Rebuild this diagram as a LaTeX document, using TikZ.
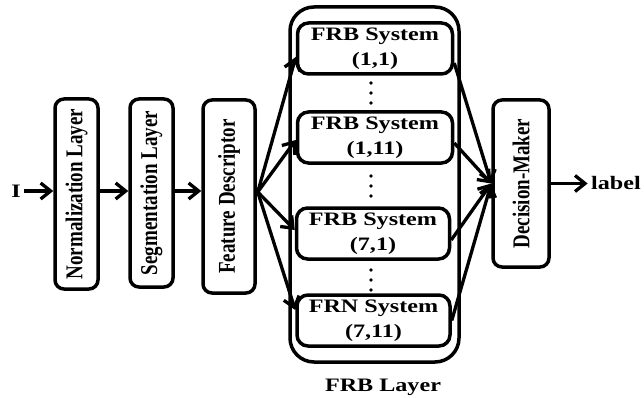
\documentclass[tikz,border=0pt]{standalone}
\usepackage{fontspec}
\setmainfont{Liberation Serif}
\usetikzlibrary{arrows.meta,calc}
\newcommand{\hs}[1]{\scalebox{1.27}[1]{#1}}
\newcommand{\vs}[1]{\scalebox{1}[1.27]{#1}}
\begin{document}
\begin{tikzpicture}[x=1pt,y=-1pt,
  every node/.style={font=\fontsize{19}{25}\selectfont\bfseries},
  box/.style={draw, line width=3.5pt, rounded corners=9pt, inner sep=0pt},
  sysbox/.style={box, rounded corners=11pt, minimum width=155pt, minimum height=51pt, align=center},
  conn/.style={line width=3.3pt, -{Straight Barb[length=10pt,width=16pt,line width=3.3pt]}},
  dot/.style={fill=black}
  ]
\useasboundingbox (0,0) rectangle (644,398);

% main boxes
\node[box, minimum width=43pt, minimum height=190pt] (norm) at (76.5,194) {\rotatebox{90}{\vs{Normalization Layer}}};
\node[box, minimum width=43pt, minimum height=188pt] (seg) at (151.5,193) {\rotatebox{90}{\vs{Segmentation Layer}}};
\node[box, minimum width=52pt, minimum height=193pt] (fd) at (229,196.5) {\rotatebox{90}{\vs{Feature Descriptor}}};
\node[box, minimum width=56pt, minimum height=167pt] (dm) at (521,183.5) {\rotatebox{90}{\vs{Decision-Maker}}};

% FRB layer
\node[box, rounded corners=24pt, minimum width=169pt, minimum height=355pt] (layer) at (374.5,184.5) {};
\node[sysbox] (s1) at (375,48.5) {\hs{FRB System}\\\hs{(1,1)}};
\node[sysbox] (s2) at (375,137.5) {\hs{FRB System}\\\hs{(1,11)}};
\node[sysbox, minimum width=153pt] (s3) at (373,233.5) {\hs{FRB System}\\\hs{(7,1)}};
\node[sysbox, minimum width=153pt] (s4) at (373.5,320.5) {\hs{FRN System}\\\hs{(7,11)}};
\node (frbl) at (383,387) {\hs{FRB Layer}};

% dots
\foreach \yy in {83,93,103,176,186,196,270,280,290}
  \fill[dot] (371,\yy) circle (1.8pt);

% input / output
\node (I) at (16,191) {\hs{I}};
\node (label) at (616,183.5) {\hs{label}};

% connectors
\draw[conn] (I) -- (I -| norm.west);
\draw[conn] (norm.east |- I) -- (seg.west |- I);
\draw[conn] (seg.east |- I) -- (fd.west |- I);
\coordinate (fan) at ($(fd.east)+(1,-4.5)$);
\draw[conn] (fan) -- ([yshift=-8.5pt]s1.west);
\draw[conn] (fan) -- ([yshift=-2.5pt]s2.west);
\draw[conn] (fan) -- ([yshift=3.5pt]s3.west);
\draw[conn] (fan) -- ([yshift=10.5pt]s4.west);
\draw[conn] ([yshift=-14.5pt]s1.east) -- (dm.west);
\draw[conn] ([yshift=-5.5pt]s2.east) -- (dm.west);
\draw[conn] ([yshift=-6.5pt]s3.east) -- (dm.west);
\draw[conn] (s4.east) -- (dm.west);
\draw[conn] (dm.east) -- (dm.east -| label.west);
\end{tikzpicture}
\end{document}
